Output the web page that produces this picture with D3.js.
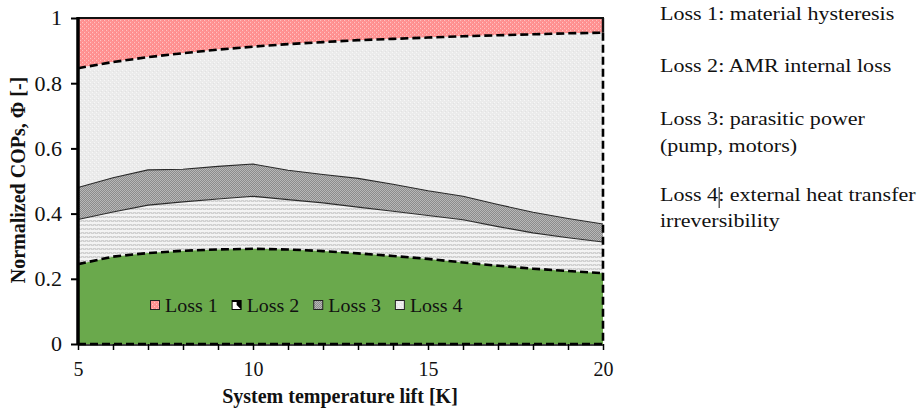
<!DOCTYPE html>
<html><head><meta charset="utf-8">
<script src="https://cdn.jsdelivr.net/npm/d3@7"></script>
<style>
body{margin:0;background:#fff}
svg{display:block}
text{font-family:"Liberation Serif","Times New Roman",serif;fill:#111}
</style>
</head><body>
<svg id="c" width="920" height="411"></svg>
<script>
// ---- data ----
const lift        = [5, 6, 7, 8, 9, 10, 11, 12, 13, 14, 15, 16, 17, 18, 19, 20];
const cop         = [0.245, 0.268, 0.279, 0.286, 0.290, 0.292, 0.290, 0.285, 0.278, 0.270, 0.261, 0.250, 0.240, 0.231, 0.224, 0.217];
const afterLoss4  = [0.382, 0.405, 0.426, 0.436, 0.445, 0.453, 0.443, 0.433, 0.420, 0.407, 0.394, 0.381, 0.360, 0.341, 0.326, 0.313];
const afterLoss3  = [0.480, 0.510, 0.534, 0.536, 0.545, 0.552, 0.533, 0.520, 0.508, 0.490, 0.470, 0.453, 0.428, 0.404, 0.385, 0.368];
const afterLoss2  = [0.846, 0.865, 0.880, 0.892, 0.903, 0.912, 0.920, 0.926, 0.932, 0.936, 0.940, 0.944, 0.947, 0.950, 0.953, 0.955];
const xTickLabels = [5, 10, 15, 20];
const yTickLabels = [0, 0.2, 0.4, 0.6, 0.8, 1];
const legendLabels = ["Loss 1", "Loss 2", "Loss 3", "Loss 4"];
const notes = [
  ["Loss 1: material hysteresis"],
  ["Loss 2: AMR internal loss"],
  ["Loss 3: parasitic power", "(pump, motors)"],
  ["Loss 4: external heat transfer", "irreversibility"]
];
const xTitle = "System temperature lift [K]";
const yTitle = "Normalized COPs, \u03A6 [-]";

// ---- setup ----
const svg = d3.select("#c");
const x = d3.scaleLinear().domain([5, 20]).range([78, 603]);
const y = d3.scaleLinear().domain([0, 1]).range([344, 18]);
const rows = lift.map((t, i) => ({t, cop: cop[i], a4: afterLoss4[i], a3: afterLoss3[i], a2: afterLoss2[i]}));

const defs = svg.append("defs");
function pat(id, w, h, base, cells) {
  const p = defs.append("pattern").attr("id", id).attr("width", w).attr("height", h)
    .attr("patternUnits", "userSpaceOnUse");
  p.append("rect").attr("width", w).attr("height", h).attr("fill", base);
  cells.forEach(c => p.append("rect").attr("x", c[0]).attr("y", c[1]).attr("width", c[2]).attr("height", c[3]).attr("fill", c[4]));
}
pat("pRed", 4, 4, "#ff9494", [[0,0,1,1,"#ffc2c2"],[2,2,1,1,"#ffc2c2"],[1,2,1,1,"#ff8585"],[3,0,1,1,"#ff8585"]]);
pat("pLight", 4, 4, "#ebebeb", [[0,0,1,1,"#f7f7f7"],[2,2,1,1,"#f7f7f7"],[1,3,1,1,"#e2e2e2"]]);
pat("pDark", 2, 2, "#8c8c8c", [[0,0,1,1,"#b8b8b8"],[1,1,1,1,"#b8b8b8"]]);
pat("pStripe", 4, 4, "#f3f3f3", [[0,0,4,2,"#d1d1d1"],[0,0,1,1,"#e8e8e8"],[2,1,1,1,"#e8e8e8"]]);

const area = (lo, hi) => d3.area().x(d => x(d.t)).y0(lo).y1(hi);

svg.append("path").datum(rows).attr("fill", "url(#pRed)")
  .attr("d", area(() => y(1), d => y(d.a2)));
svg.append("path").datum(rows).attr("fill", "url(#pLight)")
  .attr("d", area(d => y(d.a3), d => y(d.a2)));
svg.append("path").datum(rows).attr("fill", "url(#pDark)")
  .attr("d", area(d => y(d.a4), d => y(d.a3)));
svg.append("path").datum(rows).attr("fill", "url(#pStripe)")
  .attr("d", area(d => y(d.cop), d => y(d.a4)));
svg.append("path").datum(rows).attr("fill", "#6aa94c")
  .attr("d", area(() => y(0), d => y(d.cop)));

// boundary lines
const line = f => d3.line().x(d => x(d.t)).y(f);
svg.append("path").datum(rows).attr("fill", "none").attr("stroke", "#2a2a2a").attr("stroke-width", 1.1)
  .attr("d", line(d => y(d.a4)));
svg.append("path").datum(rows).attr("fill", "none").attr("stroke", "#2a2a2a").attr("stroke-width", 1.1)
  .attr("d", line(d => y(d.a3)));
[d => y(d.cop), d => y(d.a2)].forEach(f =>
  svg.append("path").datum(rows).attr("fill", "none").attr("stroke", "#000").attr("stroke-width", 2.6)
    .attr("stroke-dasharray", "8,4").attr("d", line(f)));

// frame: top solid, right dashed
svg.append("line").attr("x1", x(5)).attr("x2", x(20) + 1).attr("y1", y(1)).attr("y2", y(1))
  .attr("stroke", "#111").attr("stroke-width", 2);
svg.append("line").attr("x1", x(20)).attr("x2", x(20)).attr("y1", y(1)).attr("y2", y(afterLoss2[afterLoss2.length - 1]))
  .attr("stroke", "#111").attr("stroke-width", 2.4);
svg.append("line").attr("x1", x(20)).attr("x2", x(20)).attr("y1", y(afterLoss2[afterLoss2.length - 1])).attr("y2", y(0))
  .attr("stroke", "#000").attr("stroke-width", 2.6).attr("stroke-dasharray", "8,4");

// axes
const yAxis = svg.append("g").attr("transform", `translate(${x(5)},0)`)
  .call(d3.axisLeft(y).tickValues(yTickLabels).tickSize(7).tickPadding(9).tickFormat(d => String(d)));
yAxis.select(".domain").attr("stroke", "#000").attr("stroke-width", 3.5).attr("d", `M0,${y(1) - 1}V${y(0) + 1}`);
yAxis.selectAll(".tick line").attr("stroke", "#000").attr("stroke-width", 2);
yAxis.selectAll(".tick text").attr("font-size", 20).attr("dy", "0.34em").attr("fill", "#111")
  .each(function() {
    const t = d3.select(this), xx = +t.attr("x");
    t.attr("x", null).attr("transform", `translate(${xx},0) scale(1.1,1)`);
  });

const xAxis = svg.append("g").attr("transform", `translate(0,${y(0)})`)
  .call(d3.axisBottom(x).tickValues(d3.range(5, 21)).tickSize(6).tickPadding(12)
    .tickFormat(d => xTickLabels.includes(d) ? String(d) : ""));
xAxis.select(".domain").attr("stroke", "#000").attr("stroke-width", 2.6).attr("stroke-dasharray", "8,4")
  .attr("d", `M${x(5)},0H${x(20)}`);
xAxis.append("line").attr("x1", x(5)).attr("x2", x(20)).attr("y1", 1).attr("y2", 1).attr("stroke", "#000").attr("stroke-width", 1.5);
xAxis.selectAll(".tick line").attr("stroke", "#000").attr("stroke-width", 1.5);
xAxis.selectAll(".tick text").attr("font-size", 20).attr("fill", "#111");

// axis titles
svg.append("text").attr("x", 340).attr("y", 403).attr("text-anchor", "middle")
  .attr("font-size", 20).attr("font-weight", "bold").text(xTitle);
svg.append("text").attr("transform", "translate(25,180) rotate(-90)").attr("text-anchor", "middle")
  .attr("font-size", 20).attr("font-weight", "bold").text(yTitle);

// legend
const swFill = ["url(#pRed)", null, "url(#pDark)", "url(#pLight)"];
const lgScale = 1.05;
let lx = 150;
const lg = svg.append("g");
legendLabels.forEach((lab, i) => {
  if (i === 1) {
    lg.append("rect").attr("x", lx).attr("y", 300).attr("width", 10).attr("height", 10).attr("fill", "#000");
    lg.append("polygon").attr("points", `${lx+1},${302} ${lx+5},${302} ${lx+5},${305} ${lx+9},${309} ${lx+1},${309}`).attr("fill", "#fff");
  } else {
    lg.append("rect").attr("x", lx + 0.5).attr("y", 300.5).attr("width", 9).attr("height", 9)
      .attr("fill", swFill[i]).attr("stroke", "#222").attr("stroke-width", 1);
  }
  const t = lg.append("text").attr("transform", `translate(${lx + 15},312) scale(${lgScale},1)`)
    .attr("font-size", 19).text(lab);
  lx += 15 + t.node().getComputedTextLength() * lgScale + 14;
});

// notes on right
const noteScale = 1.13;
const noteY = [[20], [72], [125, 152], [201, 227]];
notes.forEach((ls, i) => ls.forEach((s, j) => {
  svg.append("text").attr("transform", `translate(660,${noteY[i][j]}) scale(${noteScale},1)`)
    .attr("font-size", 19.5).text(s);
}));
// text cursor artifact after "Loss 4"
const probe = svg.append("text").attr("font-size", 19.5).text("Loss 4");
const cx = 660 + probe.node().getComputedTextLength() * noteScale + 1;
probe.remove();
svg.append("line").attr("x1", cx).attr("x2", cx).attr("y1", 187).attr("y2", 208).attr("stroke", "#111").attr("stroke-width", 1);
</script>
</body></html>
